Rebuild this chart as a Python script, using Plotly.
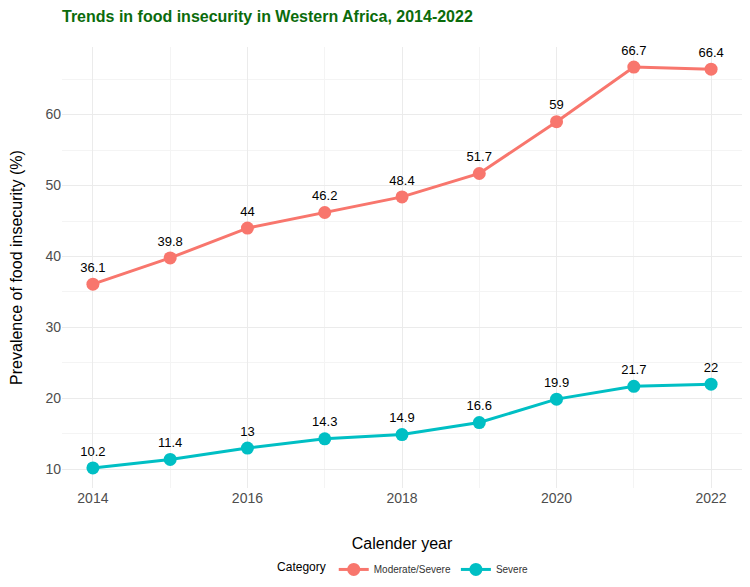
import plotly.graph_objects as go

years = [2014, 2015, 2016, 2017, 2018, 2019, 2020, 2021, 2022]
moderate_severe = [36.1, 39.8, 44, 46.2, 48.4, 51.7, 59, 66.7, 66.4]
severe = [10.2, 11.4, 13, 14.3, 14.9, 16.6, 19.9, 21.7, 22]
series_names = ["Moderate/Severe", "Severe"]
colors = ["#F8766D", "#00BFC4"]

fig = go.Figure()
for name, vals, col in zip(series_names, [moderate_severe, severe], colors):
    fig.add_trace(go.Scatter(
        x=years, y=vals, name=name, mode="lines+markers+text",
        line=dict(color=col, width=3),
        marker=dict(color=col, size=13),
        text=[f"{v:g}" for v in vals], textposition="top center",
        textfont=dict(family="Liberation Sans, Arial", size=13, color="black"),
        cliponaxis=False,
    ))

fig.update_layout(
    width=750, height=587,
    paper_bgcolor="white", plot_bgcolor="white",
    margin=dict(l=54, r=16, t=39, b=106),
    title=dict(text="<b>Trends in food insecurity in Western Africa, 2014-2022</b>",
               x=54/750, xref="container", y=1 - 8/587, yref="container",
               yanchor="middle", xanchor="left",
               font=dict(family="Liberation Sans, Arial", size=16, color="#0B6B0B")),
    font=dict(family="Liberation Sans, Arial"),
    xaxis=dict(range=[2013.6, 2022.4], tickvals=[2014, 2016, 2018, 2020, 2022],
               automargin=False,
               showgrid=True, gridcolor="#EBEBEB", gridwidth=1, zeroline=False,
               showline=False, ticks="", tickfont=dict(size=14, color="#4D4D4D"),
               minor=dict(tickvals=[2015, 2017, 2019, 2021], showgrid=True, gridcolor="#F4F4F4", gridwidth=0.6),
               title=dict(text="Calender year", font=dict(size=16, color="black"), standoff=32)),
    yaxis=dict(range=[7.375, 69.525], tickvals=[10, 20, 30, 40, 50, 60],
               automargin=False,
               showgrid=True, gridcolor="#EBEBEB", gridwidth=1, zeroline=False,
               showline=False, ticks="", tickfont=dict(size=14, color="#4D4D4D"),
               minor=dict(tickvals=[15, 25, 35, 45, 55, 65], showgrid=True, gridcolor="#F4F4F4", gridwidth=0.6),
               title=dict(text="Prevalence of food insecurity (%)", font=dict(size=16, color="black"), standoff=20)),
    legend=dict(orientation="h", x=0.503, xanchor="center", y=-0.182, yanchor="middle",
                title=dict(text="Category", font=dict(size=12, color="black")),
                font=dict(size=10, color="#333333"), itemwidth=30),
    showlegend=True,
)

fig.write_html("out.html")
